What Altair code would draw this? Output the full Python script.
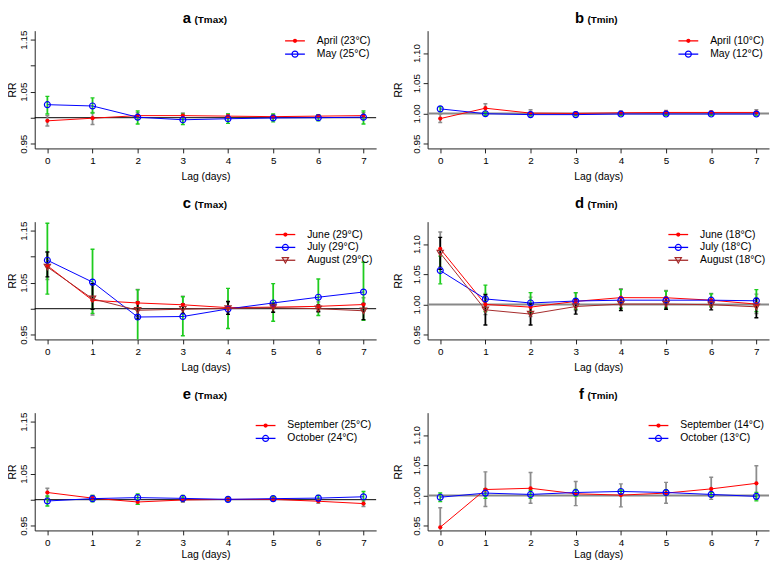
import altair as alt
import pandas as pd

LAGS = [0, 1, 2, 3, 4, 5, 6, 7]

# ---------------- panel a (Tmax) ----------------
A_APR_RR = [0.994, 0.999, 1.004, 1.004, 1.003, 1.002, 1.003, 1.004]
A_APR_LO = [0.984, 0.987, 0.997, 0.999, 0.999, 0.999, 1.000, 0.998]
A_APR_HI = [1.004, 1.010, 1.010, 1.009, 1.007, 1.006, 1.006, 1.010]
A_MAY_RR = [1.025, 1.0225, 1.001, 0.996, 0.998, 0.9995, 1.000, 1.001]
A_MAY_LO = [1.007, 1.009, 0.988, 0.987, 0.989, 0.992, 0.994, 0.988]
A_MAY_HI = [1.041, 1.038, 1.013, 1.007, 1.007, 1.007, 1.006, 1.013]

# ---------------- panel b (Tmin) ----------------
B_APR_RR = [0.9914, 1.0086, 1.0005, 1.000, 1.001, 1.0016, 1.0016, 1.0016]
B_APR_LO = [0.985, 1.002, 0.996, 0.997, 0.998, 0.998, 0.999, 0.997]
B_APR_HI = [0.999, 1.016, 1.006, 1.003, 1.004, 1.005, 1.004, 1.006]
B_MAY_RR = [1.0075, 0.9995, 0.998, 0.998, 0.999, 0.999, 0.999, 0.999]
B_MAY_LO = [1.003, 0.997, 0.996, 0.996, 0.997, 0.997, 0.997, 0.996]
B_MAY_HI = [1.011, 1.002, 1.001, 1.001, 1.001, 1.001, 1.001, 1.002]

# ---------------- panel c (Tmax) ----------------
C_JUN_RR = [1.0825, 1.016, 1.011, 1.0075, 1.002, 1.003, 1.0045, 1.008]
C_JUN_LO = [1.056, 0.988, 0.985, 0.990, 0.992, 0.994, 0.996, 0.995]
C_JUN_HI = [1.108, 1.045, 1.037, 1.024, 1.012, 1.012, 1.013, 1.021]
C_JUL_RR = [1.093, 1.051, 0.984, 0.985, 0.9995, 1.011, 1.022, 1.032]
C_JUL_LO = [1.028, 0.991, 0.931, 0.948, 0.962, 0.976, 0.987, 0.9775]
C_JUL_HI = [1.164, 1.114, 1.036, 1.023, 1.039, 1.048, 1.057, 1.089]
C_AUG_RR = [1.080, 1.019, 0.997, 0.999, 1.0005, 1.002, 1.000, 0.996]
C_AUG_LO = [1.061, 0.999, 0.980, 0.991, 0.989, 0.993, 0.994, 0.979]
C_AUG_HI = [1.109, 1.048, 1.013, 1.009, 1.014, 1.009, 1.007, 1.010]

# ---------------- panel d (Tmin) ----------------
D_JUN_RR = [1.092, 1.000, 0.9955, 1.005, 1.0112, 1.011, 1.007, 1.0005]
D_JUN_LO = [1.062, 0.983, 0.980, 0.990, 0.995, 0.996, 0.995, 0.985]
D_JUN_HI = [1.120, 1.018, 1.012, 1.019, 1.026, 1.023, 1.018, 1.017]
D_JUL_RR = [1.056, 1.009, 1.0024, 1.0056, 1.007, 1.007, 1.007, 1.006]
D_JUL_LO = [1.034, 0.988, 0.986, 0.992, 0.993, 0.994, 0.997, 0.988]
D_JUL_HI = [1.080, 1.032, 1.0195, 1.0195, 1.0245, 1.022, 1.0175, 1.0245]
D_AUG_RR = [1.085, 0.991, 0.984, 0.9965, 1.0005, 1.0005, 0.9995, 0.996]
D_AUG_LO = [1.058, 0.966, 0.966, 0.984, 0.990, 0.992, 0.991, 0.978]
D_AUG_HI = [1.111, 1.016, 1.001, 1.009, 1.011, 1.010, 1.006, 1.010]

# ---------------- panel e (Tmax) ----------------
E_SEP_RR = [1.0138, 1.003, 0.9956, 0.9994, 1.0006, 1.0006, 0.997, 0.9925]
E_SEP_LO = [1.005, 0.998, 0.991, 0.995, 0.997, 0.997, 0.993, 0.987]
E_SEP_HI = [1.022, 1.008, 1.000, 1.004, 1.004, 1.004, 1.001, 0.998]
E_OCT_RR = [0.9975, 1.002, 1.004, 1.0025, 1.0006, 1.002, 1.003, 1.0056]
E_OCT_LO = [0.988, 0.996, 0.991, 0.997, 0.997, 0.998, 0.998, 0.9925]
E_OCT_HI = [1.007, 1.008, 1.011, 1.008, 1.005, 1.006, 1.008, 1.0156]

# ---------------- panel f (Tmin) ----------------
F_SEP_RR = [0.9473, 1.0097, 1.0118, 1.0027, 1.0005, 1.0038, 1.0108, 1.020]
F_SEP_LO = [0.918, 0.9817, 0.987, 0.983, 0.981, 0.987, 0.9935, 0.993]
F_SEP_HI = [0.9796, 1.039, 1.038, 1.023, 1.019, 1.0215, 1.030, 1.049]
F_OCT_RR = [0.997, 1.0038, 1.0016, 1.0048, 1.0065, 1.0048, 1.0016, 0.9984]
F_OCT_LO = [0.990, 0.995, 0.995, 0.999, 1.003, 1.000, 0.998, 0.991]
F_OCT_HI = [1.004, 1.011, 1.0086, 1.0097, 1.009, 1.009, 1.005, 1.005]

FONT = "Liberation Sans"
RED, BLUE, BROWN = "#FF0000", "#0000FF", "#A52A2A"
GRAY, GREEN, BLACK = "#8C8C8C", "#1ECC1E", "#000000"
AXC = "#222222"

STYLES = {
    "red": dict(line=RED, shape="circle", filled=True, size=18, bar=GRAY),
    "blue": dict(line=BLUE, shape="circle", filled=False, size=36, bar=GREEN),
    "brown": dict(line=BROWN, shape="triangle-down", filled=False, size=40, bar=BLACK),
}

XDOM = [-0.28, 7.28]
TMAX_DOM = [0.941, 1.167]
TMIN_DOM = [0.942, 1.137]
W, H = 345, 119
ROW_GAP = 74
# per row: legend row offsets, title baseline, x-title offset
ROW_LEGEND = [[10.3, 23.7], [13, 26, 39], [13, 26]]
ROW_TITLE_Y = [-8, -13.5, -13.5]
ROW_XTITLE_Y = [23.5, 23.5, 19]


def point_mark(st):
    if st["filled"]:
        return dict(shape=st["shape"], filled=True, size=st["size"],
                    color=st["line"], opacity=1)
    return dict(shape=st["shape"], filled=False, size=st["size"],
                color=st["line"], strokeWidth=1.2, opacity=1)


def panel(letter, kind, series, leg_x, row, col):
    tmax = kind == "Tmax"
    ydom = TMAX_DOM if tmax else TMIN_DOM
    xs = alt.Scale(domain=XDOM, nice=False, zero=False)
    ys = alt.Scale(domain=ydom, nice=False, zero=False)
    if tmax:
        yvals = [0.95, 1.00, 1.05, 1.10, 1.15]
        lab = "indexof(['0.95','1.05','1.15'], datum.label) >= 0 ? datum.label : ''"
    else:
        yvals = [0.95, 1.00, 1.05, 1.10]
        lab = "datum.label"
    xaxis = alt.Axis(values=LAGS, format="d", title="Lag (days)", labelFlush=False,
                     grid=False, domainColor=AXC, tickColor=AXC, tickSize=4.5,
                     labelPadding=3, labelFontSize=10, labelColor="black",
                     labelFont=FONT, titleFont=FONT, titleFontSize=10.5,
                     titleFontWeight="normal", titleColor="black",
                     titleBaseline="top", titleAlign="center",
                     titleX=W / 2, titleY=ROW_XTITLE_Y[row])
    yaxis = alt.Axis(values=yvals, format=".2f", labelExpr=lab, title="RR", grid=False,
                     domainColor=AXC, tickColor=AXC, tickSize=4.5, labelPadding=1.7,
                     labelAngle=270, labelAlign="center", labelBaseline="bottom",
                     labelFontSize=10, labelColor="black", labelFont=FONT,
                     titleFont=FONT, titleFontSize=10.5, titleFontWeight="normal",
                     titleColor="black", titleAngle=270, titleAlign="center",
                     titleBaseline="top", titleX=(-27 if col == 0 else -34.8),
                     titleY=H / 2, labelFlush=False)

    def X():
        return alt.X("lag:Q", scale=xs, axis=xaxis, title="Lag (days)")

    def Y(f):
        return alt.Y(f + ":Q", scale=ys, axis=yaxis, title="RR")

    layers = []
    dfs = [pd.DataFrame({"lag": LAGS, "rr": rr, "lo": lo, "hi": hi})
           for (_, rr, lo, hi, _) in series]

    # reference line at RR = 1
    layers.append(alt.Chart(pd.DataFrame({"rr": [1.0]})).mark_rule(
        color=(BLACK if tmax else "#888888"), strokeWidth=(1 if tmax else 2)
    ).encode(y=Y("rr")))

    # error bars
    for (label, rr, lo, hi, sty), df in zip(series, dfs):
        st = STYLES[sty]
        base = alt.Chart(df)
        layers.append(base.mark_rule(color=st["bar"], strokeWidth=1.8, clip=True).encode(
            x=X(), y=Y("lo"), y2="hi:Q"))
        for f in ("lo", "hi"):
            layers.append(base.mark_tick(orient="horizontal", color=st["bar"], size=4,
                                         thickness=1.4, clip=True, opacity=1).encode(
                x=X(), y=Y(f)))

    # lines and points
    for (label, rr, lo, hi, sty), df in zip(series, dfs):
        st = STYLES[sty]
        base = alt.Chart(df)
        layers.append(base.mark_line(color=st["line"], strokeWidth=1).encode(x=X(), y=Y("rr")))
        layers.append(base.mark_point(**point_mark(st)).encode(x=X(), y=Y("rr")))

    # legend
    lx = leg_x
    for i, (label, rr, lo, hi, sty) in enumerate(series):
        st = STYLES[sty]
        ry = ROW_LEGEND[row][i]
        ld = alt.Chart(pd.DataFrame({"label": [label]}))
        layers.append(ld.mark_rule(color=st["line"], strokeWidth=1.3).encode(
            x=alt.value(lx), x2=alt.value(lx + 20), y=alt.value(ry)))
        layers.append(ld.mark_point(**point_mark(st)).encode(
            x=alt.value(lx + 10), y=alt.value(ry)))
        layers.append(ld.mark_text(align="left", baseline="middle", font=FONT,
                                   fontSize=10.5, color="black").encode(
            x=alt.value(lx + 32), y=alt.value(ry), text="label:N"))

    # title
    ty = ROW_TITLE_Y[row]
    layers.append(alt.Chart(pd.DataFrame({"t": [letter]})).mark_text(
        align="right", baseline="alphabetic", font=FONT, fontSize=15,
        fontWeight="bold", color="black").encode(
        x=alt.value(158), y=alt.value(ty), text="t:N"))
    layers.append(alt.Chart(pd.DataFrame({"t": ["(" + kind + ")"]})).mark_text(
        align="left", baseline="alphabetic", font=FONT, fontSize=10,
        fontWeight="bold", color="black").encode(
        x=alt.value(161.5), y=alt.value(ty), text="t:N"))

    return alt.layer(*layers).properties(width=W, height=H)


pa = panel("a", "Tmax", [("April (23°C)", A_APR_RR, A_APR_LO, A_APR_HI, "red"),
                         ("May (25°C)", A_MAY_RR, A_MAY_LO, A_MAY_HI, "blue")], 253, 0, 0)
pb = panel("b", "Tmin", [("April (10°C)", B_APR_RR, B_APR_LO, B_APR_HI, "red"),
                         ("May (12°C)", B_MAY_RR, B_MAY_LO, B_MAY_HI, "blue")], 253.5, 0, 1)
pc = panel("c", "Tmax", [("June (29°C)", C_JUN_RR, C_JUN_LO, C_JUN_HI, "red"),
                         ("July (29°C)", C_JUL_RR, C_JUL_LO, C_JUL_HI, "blue"),
                         ("August (29°C)", C_AUG_RR, C_AUG_LO, C_AUG_HI, "brown")], 243.3, 1, 0)
pd_ = panel("d", "Tmin", [("June (18°C)", D_JUN_RR, D_JUN_LO, D_JUN_HI, "red"),
                          ("July (18°C)", D_JUL_RR, D_JUL_LO, D_JUL_HI, "blue"),
                          ("August (18°C)", D_AUG_RR, D_AUG_LO, D_AUG_HI, "brown")], 243.3, 1, 1)
pe = panel("e", "Tmax", [("September (25°C)", E_SEP_RR, E_SEP_LO, E_SEP_HI, "red"),
                         ("October (24°C)", E_OCT_RR, E_OCT_LO, E_OCT_HI, "blue")], 223.3, 2, 0)
pf = panel("f", "Tmin", [("September (14°C)", F_SEP_RR, F_SEP_LO, F_SEP_HI, "red"),
                         ("October (13°C)", F_OCT_RR, F_OCT_LO, F_OCT_HI, "blue")], 223.3, 2, 1)

chart = alt.concat(pa, pb, pc, pd_, pe, pf, columns=2,
                   spacing={"row": ROW_GAP, "column": 52}, bounds="flush").properties(
    padding={"left": 0, "top": 0, "right": 0, "bottom": 0}
).configure_view(stroke=None)

chart.save("out.html", embed_options={"renderer": "svg", "actions": False})
